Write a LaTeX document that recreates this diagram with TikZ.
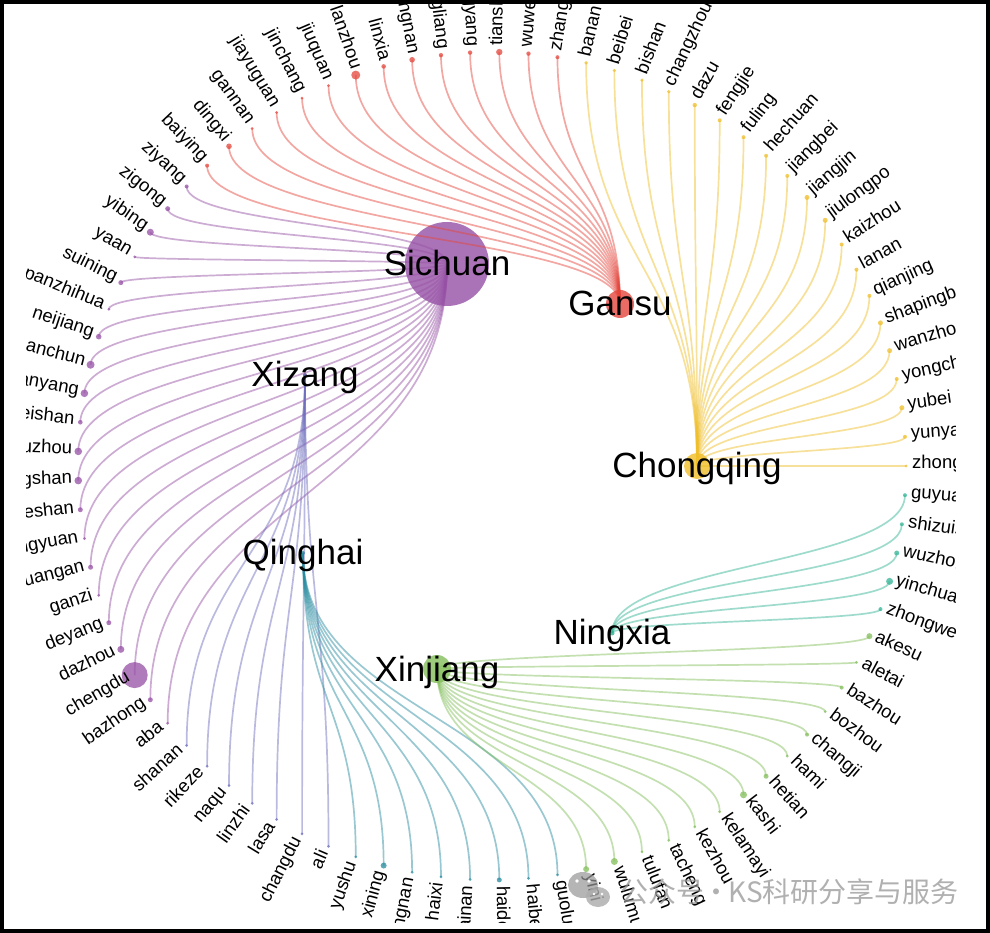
\documentclass[tikz,border=0pt]{standalone}
\usepackage{fontspec}
\setmainfont{Liberation Sans}
\newfontfamily\cjkfont{Noto Sans CJK SC}
\usetikzlibrary{calc}
\definecolor{c0}{RGB}{240,190,40}
\definecolor{c1}{RGB}{228,70,60}
\definecolor{c2}{RGB}{150,80,165}
\definecolor{c3}{RGB}{110,110,190}
\definecolor{c4}{RGB}{40,140,160}
\definecolor{c5}{RGB}{130,190,90}
\definecolor{c6}{RGB}{50,180,150}
\definecolor{wm}{RGB}{150,150,150}
\def\leaflist{zhongxian/0/1.5,yunyang/0/2,yubei/0/2.5,yongchuan/0/2,wanzhou/0/2.5,shapingba/0/2.5,qianjing/0/2,lanan/0/2,kaizhou/0/2,jiulongpo/0/2.5,jiangjin/0/2.5,jiangbei/0/2,hechuan/0/2,fuling/0/2,fengjie/0/2,dazu/0/2.2,changzhou/0/1.8,bishan/0/1.8,beibei/0/1.8,banan/0/1.8,
zhangye/1/2,wuwei/1/2.2,tianshui/1/3.2,qingyang/1/2.2,pingliang/1/2.2,longnan/1/2.8,linxia/1/2.3,lanzhou/1/4.5,jiuquan/1/1.5,jinchang/1/1.5,jiayuguan/1/1.5,gannan/1/1.5,dingxi/1/2.8,baiying/1/2,
ziyang/2/2,zigong/2/2.5,yibing/2/3.5,yaan/2/1.5,suining/2/2.5,panzhihua/2/1.5,neijiang/2/2.8,nanchun/2/4,mianyang/2/3.8,meishan/2/2.3,luzhou/2/3.8,liangshan/2/3.8,leshan/2/2.5,guangyuan/2/1.5,guangan/2/2.5,ganzi/2/1.5,deyang/2/2.5,dazhou/2/3.5,chengdu/2/13,bazhong/2/2.5,aba/2/1.5,
shanan/3/1.5,rikeze/3/1.5,naqu/3/1.5,linzhi/3/1.5,lasa/3/1.5,changdu/3/1.5,ali/3/1.5,
yushu/4/1.5,xining/4/3,huangnan/4/1.5,haixi/4/1.5,hainan/4/1.5,haidong/4/2.5,haibei/4/1.5,guoluo/4/1.5,
yini/5/3,wulumuqi/5/3.5,tulufan/5/1.5,tacheng/5/1.5,kezhou/5/1.5,kelamayi/5/1.5,kashi/5/3.5,hetian/5/2.5,hami/5/1.5,changji/5/2,bozhou/5/1.5,bazhou/5/2,aletai/5/1.5,akesu/5/3,
zhongwei/6/2,yinchuan/6/3.5,wuzhong/6/2.5,shizuishan/6/2,guyuan/6/2}
\tikzset{
  edge/.style={line width=1.7pt, draw opacity=.47},
  leafdot/.style={circle, inner sep=0pt, draw=none, fill opacity=.75},
  hubdot/.style={circle, inner sep=0pt, draw=none, fill opacity=.8},
  leaflabel/.style={font=\fontsize{18.5}{20}\selectfont, inner sep=0pt, text=black},
  hublabel/.style={font=\fontsize{35}{38}\selectfont, inner sep=0pt, text=black, anchor=base},
}
\begin{document}
\begin{tikzpicture}[x=1pt,y=1pt]
\useasboundingbox (-492,466) rectangle (498,-467);
\fill[white] (-492,466) rectangle (498,-467);
% hubs
\node[hubdot, fill=c0, minimum size=26pt] (h0) at (205,0) {};
\node[hubdot, fill=c1, minimum size=28pt] (h1) at (128,162) {};
\node[hubdot, fill=c2, minimum size=84pt] (h2) at (-45,202) {};
\node[hubdot, fill=c3!70!black, minimum size=4pt] (h3) at (-187,91) {};
\node[hubdot, fill=c4, minimum size=4pt] (h4) at (-189,-87) {};
\node[hubdot, fill=c5, minimum size=28pt] (h5) at (-55,-203) {};
\node[hubdot, fill=c6, minimum size=5pt] (h6) at (120,-167) {};
% leaf dots
\foreach \lab/\h/\s [count=\i from 0] in \leaflist {
  \pgfmathsetmacro\ang{\i*4.0449438}
  \node[leafdot, fill=c\h, minimum size=2*\s] (l\lab) at (\ang:414) {};
}
% connectors
\foreach \lab/\h/\s in \leaflist {
  \coordinate (m\lab) at ($(h\h.center)!0.5!(l\lab.center)$);
  \draw[edge, draw=c\h] (h\h.center) .. controls (h\h.center |- m\lab) and (l\lab.center |- m\lab) .. (l\lab.center);
}
% leaf labels
\begin{scope}
\clip (-465,462) rectangle (463,-456);
\foreach \lab/\h/\s [count=\i from 0] in \leaflist {
  \pgfmathsetmacro\ang{\i*4.0449438}
  \pgfmathtruncatemacro\flip{(\ang>90)&&(\ang<270)}
  \ifnum\flip=1
    \pgfmathsetmacro\rot{\ang+180}
    \node[leaflabel, rotate=\rot, anchor=mid east] (t\lab) at (\ang:420) {\lab};
  \else
    \node[leaflabel, rotate=\ang, anchor=mid west] (t\lab) at (\ang:420) {\lab};
  \fi
}
\end{scope}
% hub labels
\node[hublabel] (n0) at ($(h0.center)+(0,-12)$) {Chongqing};
\node[hublabel] (n1) at ($(h1.center)+(0,-12)$) {Gansu};
\node[hublabel] (n2) at ($(h2.center)+(0,-12)$) {Sichuan};
\node[hublabel] (n3) at ($(h3.center)+(0,-12)$) {Xizang};
\node[hublabel] (n4) at ($(h4.center)+(0,-12)$) {Qinghai};
\node[hublabel] (n5) at ($(h5.center)+(0,-12)$) {Xinjiang};
\node[hublabel] (n6) at ($(h6.center)+(0,-12)$) {Ningxia};
% watermark
\fill[wm, fill opacity=.7] (91,-419) ellipse [x radius=15, y radius=13];
\fill[wm!80!white, fill opacity=.8] (106,-431) ellipse [x radius=12, y radius=10];
\fill[white] (85,-415) circle (1.8) (97,-415) circle (1.8) (102,-428) circle (1.4) (110,-428) circle (1.4);
\node[anchor=base west, inner sep=0pt, text=wm, text opacity=.75, font=\cjkfont\fontsize{28}{32}\selectfont] (wmtext) at (128,-436) {公众号\makebox[24pt][c]{·}KS科研分享与服务};
% frame
\draw[line width=4.5pt] (-489.75,463.75) rectangle (495.75,-464.75);
\end{tikzpicture}
\end{document}
